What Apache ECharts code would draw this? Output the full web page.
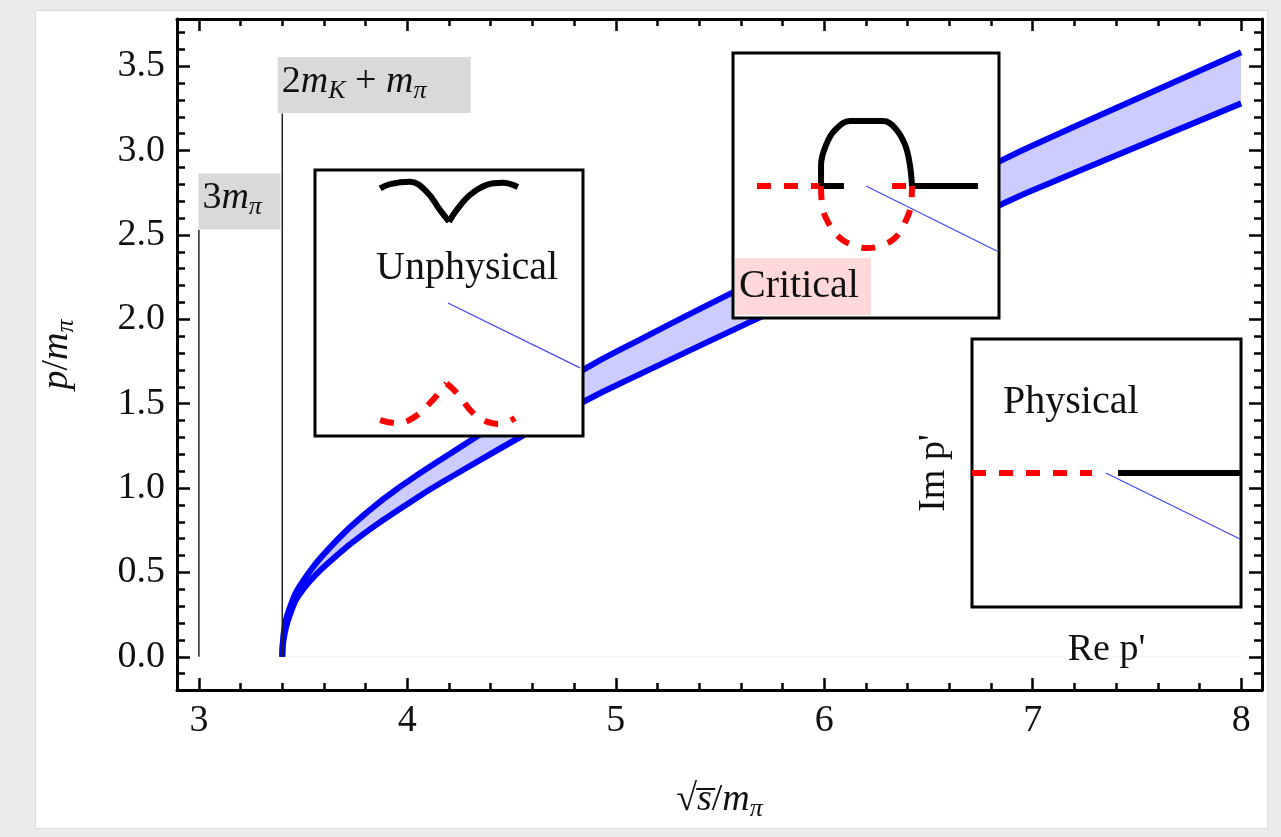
<!DOCTYPE html>
<html>
<head>
<meta charset="utf-8">
<script src="https://cdn.jsdelivr.net/npm/echarts@6/dist/echarts.min.js"></script>
<style>
  html, body { margin: 0; padding: 0; background: #ebebeb; }
  #panel { position: absolute; left: 35px; top: 10px; width: 1231px; height: 817px; background: #fff; border: 1px solid #dcdcdc; }
  #chart { position: absolute; left: 0; top: 0; width: 1281px; height: 837px; }
</style>
</head>
<body>
<div id="panel"></div>
<div id="chart"></div>
<script>
// band: sqrt(s)/m_pi vs p/m_pi, upper and lower edge
const sqrtS  = [3.400, 3.405, 3.436, 3.500, 3.661, 3.820, 3.980, 4.156, 4.843, 5.116, 5.620, 6.839, 7.000, 8.000];
const pUpper = [0, 0.12, 0.290, 0.450, 0.690, 0.870, 1.020, 1.165, 1.700, 1.880, 2.195, 2.935, 3.030, 3.583];
const pLower = [0, 0.09, 0.247, 0.400, 0.600, 0.755, 0.889, 1.027, 1.510, 1.675, 1.970, 2.675, 2.765, 3.280];

// thresholds
const thresholdX = [3, 3.4];
const thresholdTop = [2.53, 3.22];
const thresholdNames = ['{n|3}{i|m}{s|π}', '{n|2}{i|m}{s|K}{n| + }{i|m}{s|π}'];

// ticks
const xMajorTicks = [3, 4, 5, 6, 7, 8];
const xMinorTicks = [3.2, 3.4, 3.6, 3.8, 4.2, 4.4, 4.6, 4.8, 5.2, 5.4, 5.6, 5.8,
  6.2, 6.4, 6.6, 6.8, 7.2, 7.4, 7.6, 7.8];
const yMajorTicks = [0, 0.5, 1, 1.5, 2, 2.5, 3, 3.5];
const yMinorTicks = [-0.1, 0.1, 0.2, 0.3, 0.4, 0.6, 0.7, 0.8, 0.9, 1.1, 1.2, 1.3, 1.4,
  1.6, 1.7, 1.8, 1.9, 2.1, 2.2, 2.3, 2.4, 2.6, 2.7, 2.8, 2.9, 3.1, 3.2, 3.3, 3.4, 3.6, 3.7];

// insets (Re p' / Im p' sketches, unit box)
const unphysBlackL = [[0.243, 0.931], [0.280, 0.947], [0.354, 0.956], [0.417, 0.918], [0.466, 0.850], [0.500, 0.806]];
const unphysBlackR = [[0.500, 0.806], [0.529, 0.850], [0.578, 0.906], [0.641, 0.944], [0.701, 0.952], [0.757, 0.936]];
const unphysRedL = [[0.243, 0.060], [0.305, 0.048], [0.366, 0.068], [0.429, 0.124], [0.491, 0.198]];
const unphysRedR = [[0.491, 0.198], [0.529, 0.162], [0.590, 0.086], [0.641, 0.054], [0.690, 0.045], [0.746, 0.068]];
const unphysBlue = [[0.496, 0.500], [0.989, 0.256]];

const critBlackStub = [[0.323, 0.498], [0.417, 0.498]];
const critBlackArch = [[0.331, 0.498], [0.331, 0.577], [0.350, 0.653], [0.383, 0.709], [0.440, 0.743],
  [0.564, 0.743], [0.609, 0.717], [0.647, 0.653], [0.665, 0.577], [0.673, 0.498]];
const critBlackRight = [[0.673, 0.498], [0.921, 0.498]];
const critRedLeft = [[0.090, 0.498], [0.323, 0.498]];
const critRedLoop = [[0.331, 0.498], [0.335, 0.426], [0.357, 0.362], [0.402, 0.302], [0.459, 0.272], [0.500, 0.264],
  [0.553, 0.272], [0.609, 0.302], [0.647, 0.362], [0.669, 0.426], [0.673, 0.498]];
const critRedRight = [[0.598, 0.498], [0.673, 0.498]];
const critBlue = [[0.500, 0.498], [0.992, 0.253]];

const physRed = [[0, 0.5], [0.446, 0.5]];
const physBlack = [[0.543, 0.5], [1, 0.5]];
const physBlue = [[0.498, 0.5], [0.996, 0.254]];

const serif = '"Liberation Serif", "DejaVu Serif", serif';
const ink = '#111';

const mathRich = {
  n: { fontFamily: serif, fontSize: 38, color: ink },
  i: { fontFamily: serif, fontSize: 38, fontStyle: 'italic', color: ink },
  s: { fontFamily: serif, fontSize: 26, fontStyle: 'italic', color: ink, padding: [18, 0, 0, 0] }
};

const xMin = 2.895, xMax = 8.1, yMin = -0.197, yMax = 3.78;

const mainX = (position, ticks, len, withLabels) => ({
  gridIndex: 0, type: 'value', min: xMin, max: xMax, position: position,
  axisLine: { show: true, onZero: false, lineStyle: { color: '#000', width: 3 } },
  axisTick: { show: true, inside: true, length: len, customValues: ticks, lineStyle: { color: '#000', width: 2.5 } },
  axisLabel: withLabels
    ? { show: true, customValues: ticks, fontFamily: serif, fontSize: 38, color: ink, margin: 12 }
    : { show: false },
  splitLine: { show: false }
});

const mainY = (position, ticks, len, withLabels) => ({
  gridIndex: 0, type: 'value', min: yMin, max: yMax, position: position,
  axisLine: { show: true, onZero: false, lineStyle: { color: '#000', width: 3 } },
  axisTick: { show: true, inside: true, length: len, customValues: ticks, lineStyle: { color: '#000', width: 2.5 } },
  axisLabel: withLabels
    ? { show: true, customValues: ticks, fontFamily: serif, fontSize: 38, color: ink, margin: 12,
        formatter: v => v.toFixed(1) }
    : { show: false },
  splitLine: { show: false }
});

const insetAxis = (idx) => ({
  gridIndex: idx, type: 'value', min: 0, max: 1, show: false
});

const insetLine = (idx, data, color, width, dashed, smooth) => ({
  type: 'line', xAxisIndex: idx + 3, yAxisIndex: idx + 3, data: data,
  symbol: 'none', smooth: smooth || false, z: 11, silent: true,
  lineStyle: { color: color, width: width, type: dashed ? [14, 13] : 'solid', cap: 'butt' }
});

const insetGrid = (left, top, w, h) => ({
  left: left, top: top, width: w, height: h, show: true,
  backgroundColor: '#fff', borderColor: '#000', borderWidth: 3, z: 10
});

const getOption = () => {
  const xAxes = [
    Object.assign(mainX('bottom', xMajorTicks, 12, true), {
      name: '{r|√}{i|s\u0305}{n|/}{i|m}{s|π}',
      nameLocation: 'middle', nameGap: 88,
      nameTextStyle: { rich: Object.assign({ r: { fontFamily: serif, fontSize: 38, color: ink } }, mathRich) }
    }),
    mainX('top', xMajorTicks, 12, false),
    Object.assign(mainX('bottom', xMinorTicks, 7, false), { axisLine: { show: false, onZero: false } }),
    Object.assign(mainX('top', xMinorTicks, 7, false), { axisLine: { show: false, onZero: false } }),
    insetAxis(1), insetAxis(2),
    Object.assign(insetAxis(3), {
      show: true, z: 12, axisLine: { show: false }, axisTick: { show: false }, axisLabel: { show: false },
      splitLine: { show: false },
      name: "Re p'", nameLocation: 'middle', nameGap: 24,
      nameTextStyle: { fontFamily: serif, fontSize: 38, color: ink }
    })
  ];
  const yAxes = [
    Object.assign(mainY('left', yMajorTicks, 13, true), {
      name: '{i|p}{n|/}{i|m}{s|π}',
      nameLocation: 'middle', nameGap: 98,
      nameTextStyle: { rich: mathRich }
    }),
    mainY('right', yMajorTicks, 13, false),
    Object.assign(mainY('left', yMinorTicks, 8, false), { axisLine: { show: false, onZero: false } }),
    Object.assign(mainY('right', yMinorTicks, 8, false), { axisLine: { show: false, onZero: false } }),
    insetAxis(1), insetAxis(2),
    Object.assign(insetAxis(3), {
      show: true, z: 12, axisLine: { show: false }, axisTick: { show: false }, axisLabel: { show: false },
      splitLine: { show: false },
      name: "Im p'", nameLocation: 'middle', nameGap: 19,
      nameTextStyle: { fontFamily: serif, fontSize: 38, color: ink }
    })
  ];

  const upperData = sqrtS.map((x, i) => [x, pUpper[i]]);
  const lowerData = sqrtS.map((x, i) => [x, pLower[i]]);
  const smooth = 0.45;

  const series = [
    // band fill: light blue under the upper edge, white under the lower edge
    {
      type: 'line', data: upperData, symbol: 'none', smooth: smooth, z: 1, silent: true,
      lineStyle: { width: 0 }, areaStyle: { color: '#ccccff', opacity: 1, origin: 0 }
    },
    {
      type: 'line', data: lowerData, symbol: 'none', smooth: smooth, z: 1.5, silent: true,
      lineStyle: { width: 0 }, areaStyle: { color: '#ffffff', opacity: 1, origin: 0 }
    },
    {
      type: 'line', data: upperData, symbol: 'none', smooth: smooth, z: 3, silent: true,
      lineStyle: { color: '#0000ff', width: 6 }
    },
    {
      type: 'line', data: lowerData, symbol: 'none', smooth: smooth, z: 3, silent: true,
      lineStyle: { color: '#0000ff', width: 6 }
    }
  ];

  thresholdX.forEach((x, i) => {
    series.push({
      type: 'line', data: [[x, 0], [x, thresholdTop[i]]], symbol: 'none', z: 4, silent: true,
      lineStyle: { color: '#222', width: 1.5 }
    });
  });

  series.push({
    type: 'scatter', symbolSize: 1, z: 6, silent: true,
    itemStyle: { color: 'transparent' },
    label: {
      show: true, position: [0, 0], align: 'left', verticalAlign: 'bottom', color: ink, opacity: 1,
      backgroundColor: '#d9d9d9', rich: mathRich
    },
    data: thresholdX.map((x, i) => ({
      value: [x, thresholdTop[i]],
      label: i === 0
        ? { formatter: thresholdNames[i], width: 74, height: 50, padding: [3, 4, 3, 4] }
        : { formatter: thresholdNames[i], width: 185, height: 50, padding: [3, 4, 3, 4], offset: [-4, 0] }
    }))
  });

  const red = '#ff0000', black = '#000', blue = '#4444ff';
  series.push(
    insetLine(1, unphysBlackL, black, 6, false, 0.4),
    insetLine(1, unphysBlackR, black, 6, false, 0.4),
    insetLine(1, unphysRedL, red, 6, true, 0.4),
    insetLine(1, unphysRedR, red, 6, true, 0.4),
    insetLine(1, unphysBlue, blue, 1.2, false),
    insetLine(2, critBlackStub, black, 6, false),
    insetLine(2, critBlackArch, black, 6, false, 0.4),
    insetLine(2, critBlackRight, black, 6, false),
    insetLine(2, critRedLeft, red, 6, true),
    insetLine(2, critRedLoop, red, 6, true, 0.4),
    insetLine(2, critRedRight, red, 6, true),
    insetLine(2, critBlue, blue, 1.2, false),
    insetLine(3, physRed, red, 6, true),
    insetLine(3, physBlack, black, 6, false),
    insetLine(3, physBlue, blue, 1.2, false)
  );

  return {
    animation: false,
    grid: [
      { left: 177, top: 19, width: 1085, height: 671 },
      insetGrid(315, 170, 268, 266),
      insetGrid(733, 53, 266, 265),
      insetGrid(972, 339, 269, 268)
    ],
    xAxis: xAxes,
    yAxis: yAxes,
    series: series,
    graphic: [
      { type: 'text', x: 376, y: 268, z: 20,
        style: { text: 'Unphysical', font: '40px ' + serif, fill: ink, verticalAlign: 'middle' } },
      { type: 'text', x: 735, y: 258, z: 20,
        style: { text: 'Critical', font: '40px ' + serif, fill: ink, verticalAlign: 'top',
          backgroundColor: '#ffd9d9', padding: [8, 12, 8, 4], lineHeight: 41 } },
      { type: 'text', x: 1003, y: 402, z: 20,
        style: { text: 'Physical', font: '40px ' + serif, fill: ink, verticalAlign: 'middle' } }
    ]
  };
};

const initCharts = () => {
  const chart = echarts.init(document.getElementById('chart'));
  chart.setOption(getOption());
};

window.addEventListener('load', () => {
  initCharts();
});
</script>
</body>
</html>
